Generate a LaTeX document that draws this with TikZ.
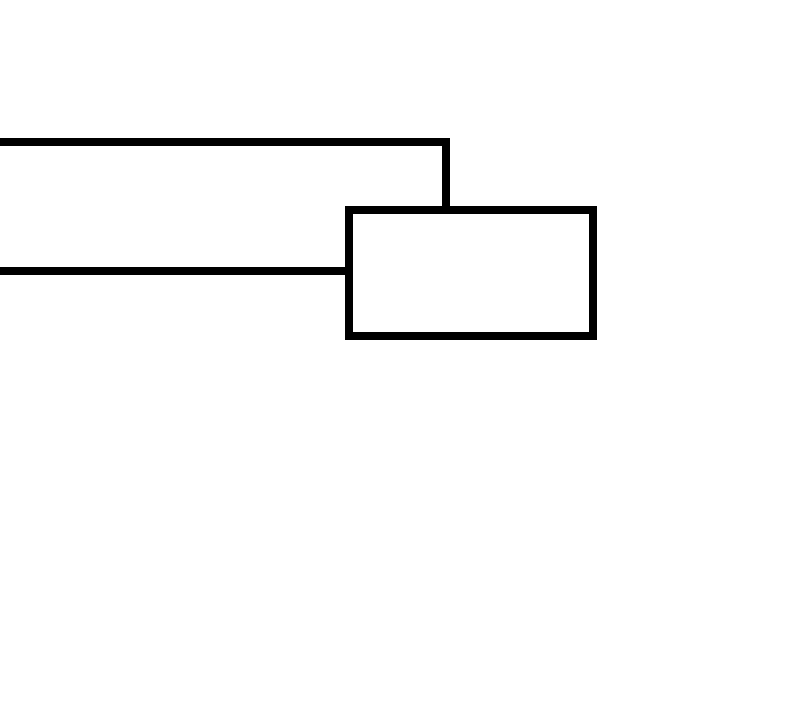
\documentclass[tikz,border=0pt]{standalone}
\usetikzlibrary{calc}

\begin{document}
\begin{tikzpicture}[x=0.025cm,y=-0.025cm,line width=0.2cm,
                    block/.style={draw,rectangle,minimum width=6.09cm,
                                  minimum height=3.145cm,inner sep=0pt}]
      \useasboundingbox (0,0) rectangle (800,705);

      \node[block] (blk) at (470.9,273.4) {};

      \coordinate (inA) at (0,142);
      \coordinate (inB) at (0,271);

      \draw (inA) -| ($(blk.north west)!0.402!(blk.north east)$);
      \draw (inB) -- (inB -| blk.west);
    \end{tikzpicture}
\end{document}
